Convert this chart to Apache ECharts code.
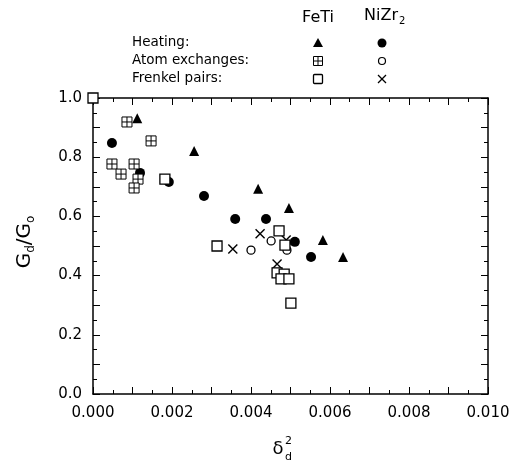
<!DOCTYPE html>
<html>
<head>
<meta charset="utf-8">
<script src="https://cdn.jsdelivr.net/npm/echarts@6/dist/echarts.min.js"></script>
<style>
html,body{margin:0;padding:0;background:#fff;}
#chart{width:529px;height:473px;}
</style>
</head>
<body>
<div id="chart"></div>
<script>
// ---- data ----
const feTiHeating = [[0.00112,0.932],[0.00256,0.821],[0.00418,0.693],[0.00496,0.628],[0.00582,0.520],[0.00633,0.463]];
const niZrHeating = [[0.00048,0.848],[0.00119,0.747],[0.00192,0.716],[0.00281,0.669],[0.00360,0.591],[0.00438,0.591],[0.00511,0.514],[0.00552,0.463]];
const feTiExchange = [[0.00086,0.919],[0.00147,0.855],[0.00048,0.777],[0.00071,0.743],[0.00104,0.777],[0.00114,0.726],[0.00104,0.696]];
const niZrExchange = [[0.00400,0.486],[0.00451,0.517],[0.00491,0.486]];
const feTiFrenkel = [[0,1.0],[0.00182,0.726],[0.00314,0.500],[0.00471,0.551],[0.00486,0.503],[0.00466,0.409],[0.00484,0.405],[0.00476,0.389],[0.00496,0.389],[0.00501,0.307]];
const niZrFrenkel = [[0.00354,0.490],[0.00423,0.541],[0.00489,0.520],[0.00466,0.439]];

const rowLabels = ['Heating:', 'Atom exchanges:', 'Frenkel pairs:'];
const xTicks = {min: 0, max: 0.010, interval: 0.001};
const yTicks = {min: 0, max: 1.0, interval: 0.1};

const FONT = 'DejaVu Sans';
const boxPlus = 'path://M0,0L10,0L10,10L0,10Z M5,0L5,10 M0,5L10,5';
const cross = 'path://M0,0L10,10 M10,0L0,10';

const chart = echarts.init(document.getElementById('chart'), null, {renderer: 'canvas'});

function axisCommon(showLabel, isX) {
  return {
    type: 'value',
    min: isX ? xTicks.min : yTicks.min,
    max: isX ? xTicks.max : yTicks.max,
    interval: isX ? xTicks.interval : yTicks.interval,
    axisLine: {show: true, onZero: false, lineStyle: {color: '#000', width: 1.5}},
    axisTick: {show: true, inside: true, length: 7, lineStyle: {color: '#000', width: 1}},
    minorTick: {show: true, splitNumber: 2, length: 4, lineStyle: {color: '#000', width: 1}},
    splitLine: {show: false},
    minorSplitLine: {show: false},
    axisLabel: {
      show: showLabel,
      color: '#000',
      fontFamily: FONT,
      fontSize: 15,
      margin: isX ? 12 : 11,
      formatter: function (v) {
        if (isX) {
          return Math.round(v * 1000) % 2 === 0 ? v.toFixed(3) : '';
        }
        return Math.round(v * 10) % 2 === 0 ? v.toFixed(1) : '';
      }
    }
  };
}

const xBottom = Object.assign(axisCommon(true, true), {position: 'bottom'});
const xTop = Object.assign(axisCommon(false, true), {position: 'top'});
const yLeft = Object.assign(axisCommon(true, false), {position: 'left'});
const yRight = Object.assign(axisCommon(false, false), {position: 'right'});

function sc(name, data, symbol, size, fill, border, bw) {
  return {
    name: name,
    type: 'scatter',
    data: data,
    symbol: symbol,
    symbolSize: size,
    clip: false,
    xAxisIndex: 0,
    yAxisIndex: 0,
    itemStyle: {color: fill, borderColor: border, borderWidth: bw, opacity: 1},
    emphasis: {disabled: true}
  };
}

// legend drawn as graphics
const legendX = 132, colFe = 318, colNi = 382;
const rowsY = [43, 61, 79];
const legendGraphics = [];
rowLabels.forEach(function (t, i) {
  legendGraphics.push({type: 'text', left: legendX, top: rowsY[i] - 8,
    style: {text: t, font: '13.5px "' + FONT + '"', fill: '#000'}});
});
legendGraphics.push({type: 'text', x: colFe, y: 18,
  style: {text: 'FeTi', font: '16px "' + FONT + '"', fill: '#000', align: 'center', verticalAlign: 'middle'}});
legendGraphics.push({type: 'text', x: 364, y: 16,
  style: {text: '{a|NiZr}{s|2}', fill: '#000', align: 'left', verticalAlign: 'middle',
    rich: {a: {fontFamily: FONT, fontSize: 16}, s: {fontFamily: FONT, fontSize: 10, padding: [11, 0, 0, 1]}}}});
// markers in legend
legendGraphics.push({type: 'polygon', shape: {points: [[colFe, rowsY[0] - 5], [colFe + 5, rowsY[0] + 4], [colFe - 5, rowsY[0] + 4]]}, style: {fill: '#000'}});
legendGraphics.push({type: 'circle', shape: {cx: colNi, cy: rowsY[0], r: 4.5}, style: {fill: '#000'}});
legendGraphics.push({type: 'rect', shape: {x: colFe - 4.5, y: rowsY[1] - 4.5, width: 9, height: 9}, style: {fill: '#fff', stroke: '#000', lineWidth: 1}});
legendGraphics.push({type: 'line', shape: {x1: colFe, y1: rowsY[1] - 4.5, x2: colFe, y2: rowsY[1] + 4.5}, style: {stroke: '#000', lineWidth: 1}});
legendGraphics.push({type: 'line', shape: {x1: colFe - 4.5, y1: rowsY[1], x2: colFe + 4.5, y2: rowsY[1]}, style: {stroke: '#000', lineWidth: 1}});
legendGraphics.push({type: 'circle', shape: {cx: colNi, cy: rowsY[1], r: 3.5}, style: {fill: '#fff', stroke: '#000', lineWidth: 1.2}});
legendGraphics.push({type: 'rect', shape: {x: colFe - 4.5, y: rowsY[2] - 4.5, width: 9, height: 9, r: 1}, style: {fill: '#fff', stroke: '#000', lineWidth: 1.3}});
legendGraphics.push({type: 'line', shape: {x1: colNi - 4, y1: rowsY[2] - 4, x2: colNi + 4, y2: rowsY[2] + 4}, style: {stroke: '#000', lineWidth: 1.3}});
legendGraphics.push({type: 'line', shape: {x1: colNi + 4, y1: rowsY[2] - 4, x2: colNi - 4, y2: rowsY[2] + 4}, style: {stroke: '#000', lineWidth: 1.3}});

// axis titles
const titleGraphics = [
  {type: 'text', x: 278, y: 449,
    style: {text: 'δ', font: '18px "' + FONT + '"', fill: '#000', align: 'center', verticalAlign: 'middle'}},
  {type: 'text', x: 285, y: 436,
    style: {text: '2', font: '11px "' + FONT + '"', fill: '#000', align: 'left', verticalAlign: 'top'}},
  {type: 'text', x: 285, y: 452,
    style: {text: 'd', font: '11px "' + FONT + '"', fill: '#000', align: 'left', verticalAlign: 'top'}},
  {type: 'text', x: 25, y: 242, rotation: Math.PI / 2,
    style: {text: '{a|G}{s|d}{a|/G}{s|o}', fill: '#000', align: 'center', verticalAlign: 'middle',
      rich: {a: {fontFamily: FONT, fontSize: 20}, s: {fontFamily: FONT, fontSize: 12, padding: [12, 0, 0, 0]}}}}
];

chart.setOption({
  animation: false,
  backgroundColor: '#fff',
  grid: {left: 93, top: 98, width: 395, height: 296, containLabel: false, outerBoundsMode: 'none'},
  xAxis: [xBottom, xTop],
  yAxis: [yLeft, yRight],
  series: [
    sc('FeTi Heating', feTiHeating, 'triangle', 10, '#000', '#000', 0),
    sc('NiZr2 Heating', niZrHeating, 'circle', 10, '#000', '#000', 0),
    sc('NiZr2 Atom exchanges', niZrExchange, 'circle', 8, '#fff', '#000', 1.3),
    sc('NiZr2 Frenkel pairs', niZrFrenkel, cross, 9, 'none', '#000', 1.4),
    sc('FeTi Atom exchanges', feTiExchange, boxPlus, 10, '#fff', '#000', 1),
    sc('FeTi Frenkel pairs', feTiFrenkel, 'rect', 10, '#fff', '#000', 1.3)
  ],
  graphic: legendGraphics.concat(titleGraphics)
});
</script>
</body>
</html>
